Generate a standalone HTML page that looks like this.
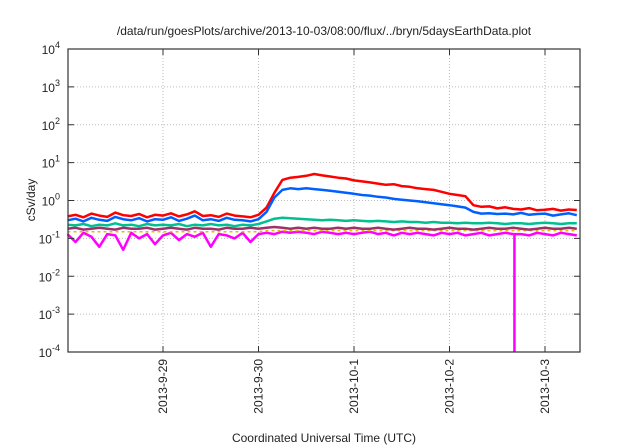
<!DOCTYPE html>
<html><head><meta charset="utf-8"><style>
body{margin:0;background:#fff}
svg{display:block;font-family:"Liberation Sans",sans-serif}
</style></head><body>
<svg id="chart" width="640" height="448" viewBox="0 0 640 448">
<rect width="640" height="448" fill="#fff"/>
<text x="324" y="35" text-anchor="middle" font-size="12" fill="#222">/data/run/goesPlots/archive/2013-10-03/08:00/flux/../bryn/5daysEarthData.plot</text>
<text transform="translate(35,200) rotate(-90)" text-anchor="middle" font-size="12" fill="#222">cSv/day</text>
<text x="324" y="442" text-anchor="middle" font-size="12" fill="#222">Coordinated Universal Time (UTC)</text>
<g id="grid"></g><g id="series"></g><g id="axes"></g>
</svg>
<script>
const yTickExps=[-4,-3,-2,-1,0,1,2,3,4];
const xTickLabels=["2013-9-29","2013-9-30","2013-10-1","2013-10-2","2013-10-3"];
const xTickDays=[1,2,3,4,5];
const red=[.38,.42,.36,.45,.40,.37,.48,.41,.39,.44,.36,.42,.40,.46,.38,.43,.52,.39,.41,.37,.45,.40,.38,.36,.42,.65,1.6,3.5,4.0,4.2,4.5,5.0,4.6,4.3,4.0,3.8,3.4,3.2,3.0,2.8,2.6,2.7,2.4,2.3,2.1,2.0,1.9,1.7,1.5,1.4,1.3,.75,.68,.70,.62,.66,.60,.58,.63,.55,.57,.60,.54,.58,.56];
const blue=[.30,.33,.28,.35,.31,.29,.37,.32,.30,.34,.28,.32,.31,.36,.29,.33,.40,.30,.32,.29,.35,.31,.30,.28,.32,.50,1.2,1.9,2.1,2.0,2.1,2.0,1.9,1.8,1.7,1.6,1.5,1.4,1.35,1.25,1.2,1.1,1.05,1.0,.95,.9,.85,.8,.75,.7,.65,.5,.45,.46,.44,.45,.43,.47,.42,.44,.45,.40,.43,.46,.41];
const green=[.23,.22,.24,.21,.23,.22,.25,.22,.23,.21,.24,.22,.23,.22,.24,.21,.23,.22,.24,.22,.23,.21,.23,.22,.24,.28,.33,.35,.34,.33,.32,.31,.30,.31,.30,.29,.30,.29,.28,.29,.28,.27,.28,.27,.27,.26,.27,.26,.26,.25,.26,.25,.25,.26,.25,.24,.25,.25,.24,.25,.26,.25,.24,.25,.25];
const purple=[.18,.19,.17,.18,.19,.18,.17,.19,.18,.18,.19,.17,.18,.19,.18,.17,.19,.18,.18,.17,.19,.18,.18,.19,.18,.19,.20,.19,.18,.19,.18,.19,.18,.18,.19,.18,.19,.18,.18,.19,.18,.17,.18,.19,.18,.18,.17,.18,.19,.18,.18,.17,.18,.19,.18,.18,.19,.18,.17,.18,.19,.18,.18,.19,.18];
const yellow=[.15,.15,.15,.15,.15,.15,.15,.15,.15,.15,.15,.15,.15,.15,.15,.15,.15,.15,.15,.15,.15,.15,.15,.15,.15,.16,.16,.16,.16,.16,.16,.16,.16,.16,.16,.16,.16,.16,.16,.16,.16,.16,.16,.16,.16,.16,.16,.16,.16,.16,.16,.16,.16,.16,.16,.16,.16,.16,.16,.16,.16,.16,.16,.16,.16];
const magenta=[.13,.08,.14,.11,.06,.13,.12,.05,.14,.10,.13,.07,.12,.14,.09,.13,.11,.14,.06,.13,.12,.10,.14,.08,.13,.14,.13,.15,.14,.15,.14,.13,.15,.14,.13,.14,.13,.14,.15,.13,.14,.12,.14,.13,.14,.13,.12,.14,.13,.14,.12,.13,.14,.12,.13,.14,.13,.13,.12,.14,.13,.12,.14,.13,.12];
const magentaDipDay=[4.68];
const magentaDipValue=[0.0001];
const stepHours=2;
const L=68,R=580,T=49,B=352,DAYPX=95.5;
const ns="http://www.w3.org/2000/svg";
function xs(day){return 67.5+day*DAYPX;}
function ys(v){return B-(Math.log10(v)+4)*(B-T)/8;}
function mk(tag,at,parent){const e=document.createElementNS(ns,tag);for(const k in at)e.setAttribute(k,at[k]);parent.appendChild(e);return e;}
const grid=document.getElementById('grid'),axes=document.getElementById('axes'),ser=document.getElementById('series');
yTickExps.forEach(e=>{const y=ys(Math.pow(10,e));
 if(e>-4&&e<4){const g=mk('line',{x1:L,x2:R,y1:y,y2:y,stroke:'#bbb','stroke-dasharray':'1,2','stroke-width':1},grid);
 
 }
 const t=mk('line',{x1:L,x2:L+6,y1:y,y2:y,stroke:'#333'},axes);
 
 
 mk('line',{x1:R,x2:R-6,y1:y,y2:y,stroke:'#333'},axes);
 const tx=mk('text',{x:L-8,y:y+5,'text-anchor':'end','font-size':12,fill:'#222'},axes);
 
 
 tx.textContent='10';const s=mk('tspan',{dy:-6,'font-size':9},tx);s.textContent=String(e);
});
xTickDays.forEach((d,i)=>{const x=xs(d);
 const g=mk('line',{x1:x,x2:x,y1:T,y2:B,stroke:'#bbb','stroke-dasharray':'1,2'},grid);
 
 
 mk('line',{x1:x,x2:x,y1:B,y2:B-6,stroke:'#333'},axes);mk('line',{x1:x,x2:x,y1:T,y2:T+6,stroke:'#333'},axes);
 const t=mk('text',{transform:`translate(${x+4},${B+7}) rotate(-90)`,'text-anchor':'end','font-size':12,fill:'#222'},axes);
 
 
 t.textContent=xTickLabels[i];
});
const frame=mk('rect',{x:L,y:T,width:R-L,height:B-T,fill:'none',stroke:'#333','stroke-width':1.2},axes);


function path(arr,color,w,dash,name){
 const d=arr.map((v,i)=>{const x=Math.min(xs(i*stepHours/24),R);const y=Math.min(ys(v),B);return (i?'L':'M')+x.toFixed(1)+','+y.toFixed(1);}).join('');
 const p=mk('path',{d,fill:'none',stroke:color,'stroke-width':w,'stroke-linejoin':'round'},ser);
 if(dash)p.setAttribute('stroke-dasharray',dash);
 
 
}
path(magenta,'#ff00ff',2.5,null,'series-magenta');
magentaDipDay.forEach((d,i)=>{
 const idx=Math.round(d*24/stepHours);
 const x=xs(d);
 const dl=mk('line',{x1:x,x2:x,y1:ys(magenta[idx]),y2:Math.min(ys(magentaDipValue[i]),B),stroke:'#ff00ff','stroke-width':2.5},ser);
 
 
});
path(yellow,'#e0c000',1.5,'3,3','series-yellow');
path(purple,'#a0306a',2.5,null,'series-purple');
path(green,'#00c090',2.5,null,'series-green');
path(red,'#ff0000',2.5,null,'series-red');
path(blue,'#0060ff',2.5,null,'series-blue');
</script>
</body></html>
